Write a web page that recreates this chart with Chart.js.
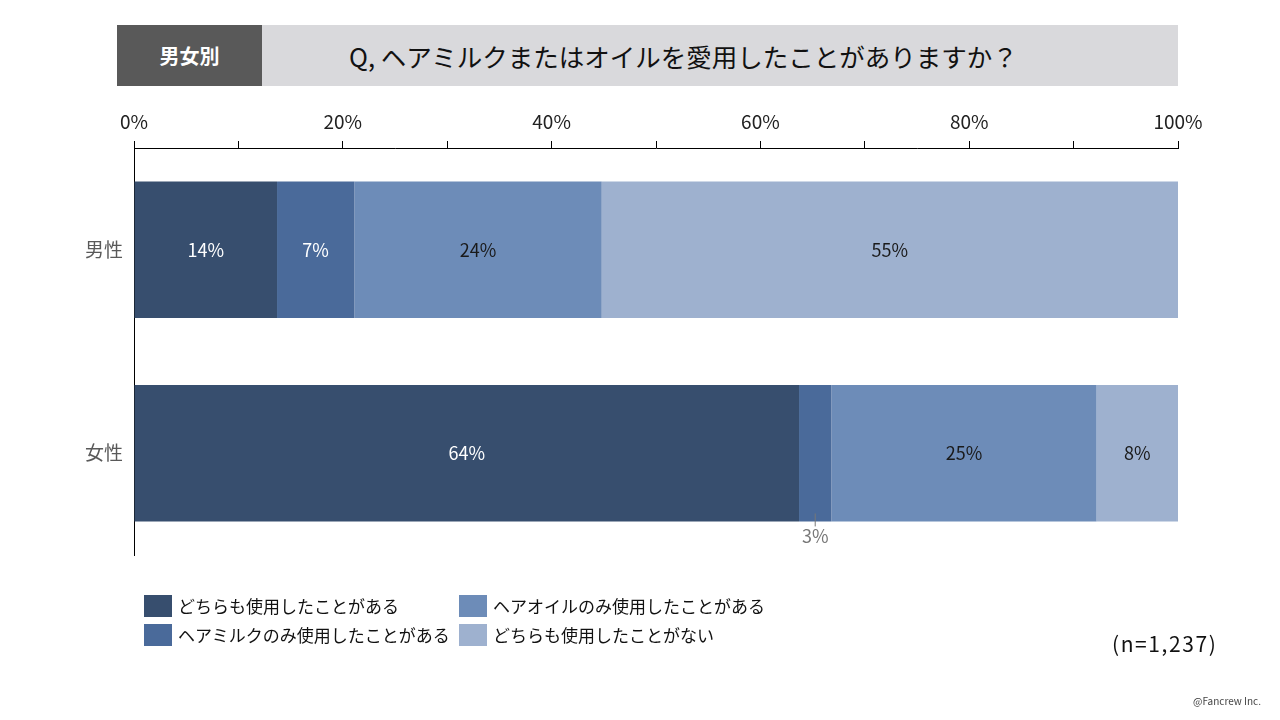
<!DOCTYPE html>
<html lang="ja">
<head>
<meta charset="utf-8">
<script src="https://cdn.jsdelivr.net/npm/chart.js@4"></script>
<style>
  html, body { margin: 0; padding: 0; background: #fff; }
  body { width: 1280px; height: 720px; position: relative; overflow: hidden;
         font-family: "Noto Sans CJK JP", "Noto Sans", sans-serif; }
  #mainChart { position: absolute; left: 0; top: 0; }
  .tag { position: absolute; left: 117px; top: 25px; width: 145px; height: 61px;
         background: #595959; color: #fff; font-size: 20px; font-weight: bold;
         display: flex; align-items: center; justify-content: center; }
  .title { position: absolute; left: 262px; top: 25px; width: 916px; height: 61px;
           background: #d9d9dc; color: #111; font-size: 25.5px;
           display: flex; align-items: center; box-sizing: border-box; padding-left: 87px; }
  #legend { position: absolute; left: 144px; top: 594px; display: grid;
            grid-template-columns: 315px 320px; row-gap: 6px; }
  .item { display: flex; align-items: center; font-size: 17px; color: #111; height: 23px; }
  .swatch { width: 28px; height: 22px; margin-right: 6px; }
  .n { position: absolute; left: 1112px; top: 628px; font-size: 21px; letter-spacing: 1.6px; color: #111; }
  .copy { position: absolute; left: 1193px; top: 693px; font-size: 10px; color: #444; }
</style>
</head>
<body>
<div class="tag">男女別</div>
<div class="title">Q, ヘアミルクまたはオイルを愛用したことがありますか？</div>
<canvas id="mainChart" width="1280" height="720"></canvas>
<div id="legend"></div>
<div class="n">(n=1,237)</div>
<div class="copy">@Fancrew Inc.</div>
<script>
const categories = ["男性", "女性"];
const seriesNames = ["どちらも使用したことがある", "ヘアミルクのみ使用したことがある",
                     "ヘアオイルのみ使用したことがある", "どちらも使用したことがない"];
const bothUsed = [13.7, 63.7];
const milkOnly = [7.4, 3.1];
const oilOnly = [23.7, 25.4];
const neverUsed = [55.2, 7.8];
const colors = ["#374e6e", "#4a6a9a", "#6d8cb8", "#9eb1cf"];
const labelColors = ["#ffffff", "#ffffff", "#1a1a1a", "#1a1a1a"];

const seriesValues = [bothUsed, milkOnly, oilOnly, neverUsed];
const FONT = '"Noto Sans CJK JP", "Noto Sans", sans-serif';

// percent labels on each segment; tiny ones go under the bar with a leader line
const barLabels = {
    id: "barLabels",
    afterDatasetsDraw(chart) {
        const ctx = chart.ctx;
        ctx.save();
        ctx.font = "18px " + FONT;
        ctx.textAlign = "center";
        ctx.textBaseline = "middle";
        chart.data.datasets.forEach((ds, i) => {
            chart.getDatasetMeta(i).data.forEach((bar, j) => {
                const v = ds.data[j];
                const p = bar.getCenterPoint();
                const text = Math.round(v) + "%";
                if (v < 5) {
                    const bottom = bar.y + bar.height / 2;
                    ctx.strokeStyle = "#777";
                    ctx.lineWidth = 1;
                    ctx.beginPath();
                    ctx.moveTo(p.x, bottom - 8);
                    ctx.lineTo(p.x, bottom + 5);
                    ctx.stroke();
                    ctx.fillStyle = "#777";
                    ctx.fillText(text, p.x, bottom + 15);
                } else {
                    ctx.fillStyle = labelColors[i];
                    ctx.fillText(text, p.x, p.y);
                }
            });
        });
        ctx.restore();
    }
};

const ctx = document.getElementById("mainChart").getContext("2d");
const mainChart = new Chart(ctx, {
    type: "bar",
    data: {
        labels: categories,
        datasets: seriesValues.map((vals, i) => ({
            label: seriesNames[i],
            data: vals,
            backgroundColor: colors[i],
            borderWidth: 0,
            barPercentage: 0.67,
            categoryPercentage: 1
        }))
    },
    options: {
        indexAxis: "y",
        responsive: false,
        animation: false,
        layout: { padding: { left: 0, top: 0, right: 102, bottom: 165 } },
        plugins: { legend: { display: false }, tooltip: { enabled: false } },
        scales: {
            x: {
                position: "top",
                stacked: true,
                min: 0,
                max: 100,
                ticks: {
                    stepSize: 10,
                    padding: 8,
                    color: "#222",
                    font: { family: FONT, size: 19 },
                    callback: v => (v % 20 === 0 ? v + "%" : "")
                },
                grid: { drawOnChartArea: false, drawTicks: true, tickLength: 7, color: "#000" },
                border: { color: "#000", width: 1 },
                afterFit: s => { s.height = 148; }
            },
            y: {
                stacked: true,
                ticks: { padding: 3, color: "#595959", font: { family: FONT, size: 19 } },
                grid: { display: false },
                border: { display: true, color: "#000", width: 1 },
                afterFit: s => { s.width = 134; }
            }
        }
    },
    plugins: [barLabels]
});

// legend in two columns, column-major like the original
const legend = document.getElementById("legend");
[0, 2, 1, 3].forEach(i => {
    const item = document.createElement("div");
    item.className = "item";
    item.innerHTML = '<span class="swatch" style="background:' + colors[i] + '"></span>' + seriesNames[i];
    legend.appendChild(item);
});
</script>
</body>
</html>
